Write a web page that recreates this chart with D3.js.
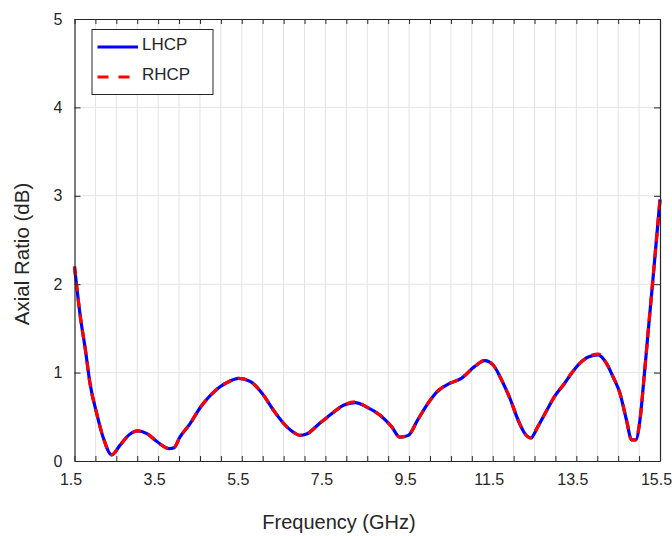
<!DOCTYPE html>
<html><head><meta charset="utf-8">
<script src="https://cdn.jsdelivr.net/npm/d3@7"></script>
<style>body{margin:0;background:#fff}svg{display:block}text{font-family:"Liberation Sans",Arial,sans-serif;fill:#262626}</style>
</head><body><svg id="c" width="672" height="536"></svg>
<script>
const freq = [1.5,1.64,1.76,1.87,2.03,2.19,2.39,2.59,2.79,3.01,3.23,3.47,3.77,3.88,4.02,4.26,4.5,4.58,4.98,5.2,5.42,5.7,5.98,6.25,6.53,6.75,6.89,7.05,7.37,7.61,7.77,7.93,8.21,8.49,8.8,9.08,9.28,9.48,9.7,9.92,10.16,10.48,10.75,11.07,11.31,11.51,11.71,11.91,12.11,12.27,12.41,12.58,12.8,12.98,13.22,13.38,13.58,13.8,14.02,14.22,14.38,14.54,14.7,14.82,14.92,15.02,15.12,15.22,15.33,15.5];
const lhcp = [2.2,1.63,1.26,0.88,0.54,0.26,0.07,0.18,0.29,0.34,0.31,0.22,0.14,0.15,0.27,0.42,0.6,0.65,0.84,0.9,0.935,0.9,0.77,0.58,0.41,0.32,0.29,0.305,0.43,0.52,0.58,0.63,0.66,0.61,0.52,0.39,0.27,0.29,0.46,0.63,0.78,0.88,0.935,1.07,1.135,1.086,0.92,0.71,0.46,0.31,0.26,0.39,0.58,0.73,0.88,0.99,1.105,1.18,1.2,1.105,0.95,0.77,0.46,0.24,0.24,0.46,0.95,1.48,2.05,2.96];
const rhcp = [2.2,1.63,1.26,0.88,0.54,0.26,0.07,0.18,0.29,0.34,0.31,0.22,0.14,0.15,0.27,0.42,0.6,0.65,0.84,0.9,0.935,0.9,0.77,0.58,0.41,0.32,0.29,0.305,0.43,0.52,0.58,0.63,0.67,0.61,0.52,0.39,0.27,0.29,0.46,0.63,0.78,0.88,0.935,1.07,1.14,1.086,0.92,0.71,0.46,0.31,0.26,0.39,0.58,0.73,0.88,0.99,1.105,1.18,1.21,1.105,0.95,0.77,0.46,0.24,0.24,0.46,0.95,1.48,2.05,2.96];
const xTicks = d3.range(1.5, 15.51, 0.5);
const xLabels = ["1.5","3.5","5.5","7.5","9.5","11.5","13.5","15.5"];
const yTicks = [0,1,2,3,4,5];
const seriesNames = ["LHCP","RHCP"];

const svg = d3.select("#c");
const L=74.5, R=660, T=19, B=461;
const x = d3.scaleLinear().domain([1.5,15.5]).range([L,R]);
const y = d3.scaleLinear().domain([0,5]).range([B,T]);
const axisCol="#262626";

// grid
svg.append("g").selectAll("line").data(xTicks.slice(1,-1)).join("line")
  .attr("x1",d=>x(d)).attr("x2",d=>x(d)).attr("y1",T).attr("y2",B)
  .attr("stroke","#e3e3e3").attr("stroke-width",1);
svg.append("g").selectAll("line").data(yTicks.slice(1,-1)).join("line")
  .attr("x1",L).attr("x2",R).attr("y1",d=>y(d)).attr("y2",d=>y(d))
  .attr("stroke","#e3e3e3").attr("stroke-width",1);

// data lines
const line = d3.line().x((d,i)=>x(freq[i])).y(d=>y(d)).curve(d3.curveMonotoneX);
svg.append("path").datum(lhcp).attr("d",line).attr("fill","none")
  .attr("stroke","#0000ff").attr("stroke-width",3.2).attr("stroke-linejoin","round");
svg.append("path").datum(rhcp).attr("d",line).attr("fill","none")
  .attr("stroke","#ff0000").attr("stroke-width",3.2).attr("stroke-dasharray","9,7");

// axes (box with inward ticks)
const fmt = d => { const s=d3.format(".1f")(d); return xLabels.includes(s)?s:""; };
const xb = svg.append("g").attr("transform",`translate(0,${B})`)
  .call(d3.axisBottom(x).tickValues(xTicks).tickSizeInner(-5).tickSizeOuter(0).tickPadding(13).tickFormat(fmt));
const xt = svg.append("g").attr("transform",`translate(0,${T})`)
  .call(d3.axisTop(x).tickValues(xTicks).tickSizeInner(-5).tickSizeOuter(0).tickFormat(""));
const yl = svg.append("g").attr("transform",`translate(${L},0)`)
  .call(d3.axisLeft(y).tickValues(yTicks).tickSizeInner(-6).tickSizeOuter(0).tickPadding(12).tickFormat(d3.format("d")));
const yr = svg.append("g").attr("transform",`translate(${R},0)`)
  .call(d3.axisRight(y).tickValues(yTicks).tickSizeInner(-6).tickSizeOuter(0).tickFormat(""));
[xb,xt,yl,yr].forEach(g=>{
  g.select(".domain").attr("stroke",axisCol).attr("stroke-width",1.2);
  g.selectAll(".tick line").attr("stroke",axisCol);
  g.selectAll(".tick text").attr("font-size",16).attr("font-family","Liberation Sans, Arial, sans-serif").attr("fill",axisCol);
});
xb.selectAll(".tick text").attr("dx",-4);

// axis labels
svg.append("text").attr("x",339).attr("y",529).attr("text-anchor","middle").attr("font-size",20).text("Frequency (GHz)");
svg.append("text").attr("transform","translate(29,254) rotate(-90)").attr("text-anchor","middle").attr("font-size",20.5).text("Axial Ratio (dB)");

// legend
const lg = svg.append("g");
lg.append("rect").attr("x",92).attr("y",29.5).attr("width",121).attr("height",65)
  .attr("fill","#fff").attr("stroke",axisCol).attr("stroke-width",1);
const lgCol=["#0000ff","#ff0000"], lgDash=[null,"11,10"], lgY=[47,77];
seriesNames.forEach((n,i)=>{
  lg.append("line").attr("x1",97.5).attr("x2",138).attr("y1",lgY[i]).attr("y2",lgY[i])
    .attr("stroke",lgCol[i]).attr("stroke-width",3.2).attr("stroke-dasharray",lgDash[i]);
  lg.append("text").attr("x",142).attr("y",lgY[i]-1).attr("dominant-baseline","middle")
    .attr("font-size",17).text(n);
});
</script></body></html>
